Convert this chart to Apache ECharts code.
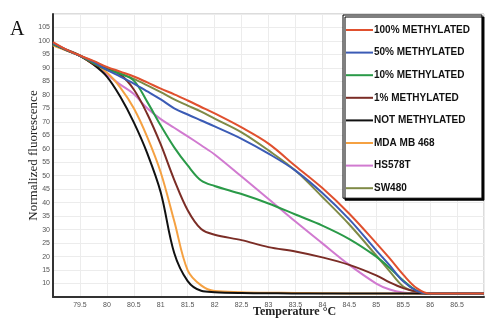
<!DOCTYPE html>
<html>
<head>
<meta charset="utf-8">
<script src="https://cdn.jsdelivr.net/npm/echarts@6/dist/echarts.min.js"></script>
<style>
  html, body { margin: 0; padding: 0; background: #fff; }
  #chart { width: 499px; height: 331px; }
</style>
</head>
<body>
<div id="chart"></div>
<script>
// Melting temperatures (°C) shared by every curve
const temps = [79.0, 79.25, 79.5, 79.75, 80.0, 80.25, 80.5, 80.75, 81.0, 81.25, 81.5, 81.75, 82.0,
               82.5, 83.0, 83.5, 84.0, 84.5, 85.0, 85.25, 85.5, 85.75, 86.0, 86.5, 87.0];

// Normalized fluorescence per sample
const meth100 = [99.6, 96.8, 94.6, 92.6, 90.4, 88.6, 86.8, 84.6, 82.3, 80.2, 77.9, 75.5, 73.1,
                 67.9, 61.9, 53.6, 45.4, 35.9, 25.0, 19.3, 13.3, 8.3, 6.3, 6.3, 6.3];
const meth50  = [99.2, 96.7, 94.5, 92.2, 89.3, 86.8, 84.2, 81.3, 78.3, 75.0, 72.7, 70.5, 68.3,
                 63.7, 58.2, 51.9, 43.6, 33.8, 22.3, 16.7, 10.8, 7.3, 6.3, 6.3, 6.3];
const meth10  = [98.8, 96.6, 94.5, 91.8, 89.3, 87.8, 85.3, 77.4, 68.6, 60.5, 53.8, 48.2, 46.2,
                 43.2, 39.7, 35.6, 31.5, 26.5, 20.0, 15.8, 11.1, 7.4, 6.3, 6.3, 6.3];
const meth1   = [99.0, 96.8, 94.6, 91.5, 89.5, 87.5, 82.0, 72.9, 61.6, 48.5, 37.2, 30.2, 28.1,
                 26.1, 23.5, 21.9, 19.7, 16.9, 13.0, 10.4, 8.3, 7.0, 6.3, 6.3, 6.3];
const notMeth = [98.8, 96.6, 94.5, 91.3, 86.8, 79.3, 69.8, 58.3, 43.8, 21.3, 10.9, 7.3, 6.8,
                 6.5, 6.4, 6.3, 6.3, 6.3, 6.3, 6.3, 6.3, 6.3, 6.3, 6.3, 6.3];
const mda468  = [98.4, 96.4, 94.5, 91.3, 88.3, 82.7, 75.0, 64.3, 51.2, 33.2, 14.9, 9.3, 7.2,
                 6.8, 6.6, 6.5, 6.4, 6.3, 6.3, 6.3, 6.3, 6.3, 6.3, 6.3, 6.3];
const hs578t  = [98.6, 96.5, 94.5, 91.5, 87.6, 83.8, 80.3, 75.0, 71.0, 67.8, 64.6, 61.3, 57.9,
                 49.7, 41.4, 33.0, 24.9, 16.9, 10.0, 7.8, 6.7, 6.4, 6.3, 6.3, 6.3];
const sw480   = [99.0, 96.6, 94.5, 92.4, 90.0, 88.0, 85.9, 83.5, 81.0, 78.3, 76.0, 73.8, 71.2,
                 66.1, 59.4, 51.9, 42.1, 31.9, 20.4, 14.5, 8.9, 6.9, 6.3, 6.3, 6.3];

const sampleNames = ['100% METHYLATED', '50% METHYLATED', '10% METHYLATED', '1% METHYLATED',
                     'NOT METHYLATED', 'MDA MB 468', 'HS578T', 'SW480'];
const sampleValues = [meth100, meth50, meth10, meth1, notMeth, mda468, hs578t, sw480];
const sampleColors = ['#e0502e', '#3b5bb5', '#2a9a48', '#7b2d26', '#111111', '#f5a142', '#d17ad0', '#7f8a46'];

const chart = echarts.init(document.getElementById('chart'), null, { renderer: 'canvas' });

const series = sampleNames.map((name, i) => ({
  name: name,
  type: 'line',
  data: temps.map((t, k) => [t, sampleValues[i][k]]),
  smooth: 0.35,
  symbol: 'none',
  lineStyle: { width: 2, color: sampleColors[i] },
  itemStyle: { color: sampleColors[i] },
  z: 10 - i
}));

chart.setOption({
  animation: false,
  backgroundColor: '#fff',
  title: {
    text: 'A',
    left: 5,
    top: 15,
    textStyle: { fontFamily: 'Liberation Serif', fontSize: 20, fontWeight: 'normal', color: '#111' }
  },
  grid: {
    left: 53, right: 15, top: 14, bottom: 34,
    show: true, borderColor: '#b8b8b8', borderWidth: 1
  },
  legend: {
    orient: 'vertical',
    left: 343,
    top: 15,
    itemWidth: 27,
    itemHeight: 12,
    itemGap: 12.6,
    padding: [10, 12, 5, 2],
    backgroundColor: '#fff',
    borderColor: '#000',
    borderWidth: 1,
    shadowColor: '#000',
    shadowOffsetX: 2,
    shadowOffsetY: 2,
    shadowBlur: 0,
    itemStyle: { opacity: 0, borderWidth: 0 },
    lineStyle: { width: 2 },
    textStyle: { fontFamily: 'Liberation Sans', fontSize: 10, fontWeight: 'bold', color: '#111', padding: [0, 0, 0, -4] },
    data: sampleNames
  },
  xAxis: {
    type: 'value',
    min: 79.0,
    max: 87.0,
    interval: 0.5,
    axisLine: { show: true, lineStyle: { color: '#333', width: 2 } },
    axisTick: { show: false },
    splitLine: { show: true, lineStyle: { color: '#ececec', width: 1 } },
    axisLabel: {
      showMinLabel: false, showMaxLabel: false,
      fontFamily: 'Liberation Sans', fontSize: 7, color: '#555', margin: 5
    }
  },
  yAxis: {
    type: 'value',
    min: 5,
    max: 110,
    interval: 5,
    name: 'Normalized fluorescence',
    nameLocation: 'middle',
    nameGap: 13,
    nameMoveOverlap: false,
    nameTextStyle: { fontFamily: 'Liberation Serif', fontSize: 13, color: '#222' },
    axisLine: { show: true, lineStyle: { color: '#333', width: 2 } },
    axisTick: { show: false },
    splitLine: { show: true, lineStyle: { color: '#ececec', width: 1 } },
    axisLabel: {
      showMinLabel: false, showMaxLabel: false,
      fontFamily: 'Liberation Sans', fontSize: 7, color: '#555', margin: 3
    }
  },
  graphic: [{
    type: 'text',
    left: 253,
    top: 306,
    style: { text: 'Temperature °C', fontFamily: 'Liberation Serif', fontSize: 12, fontWeight: 'bold', fill: '#222' }
  }],
  series: series
});
</script>
</body>
</html>
